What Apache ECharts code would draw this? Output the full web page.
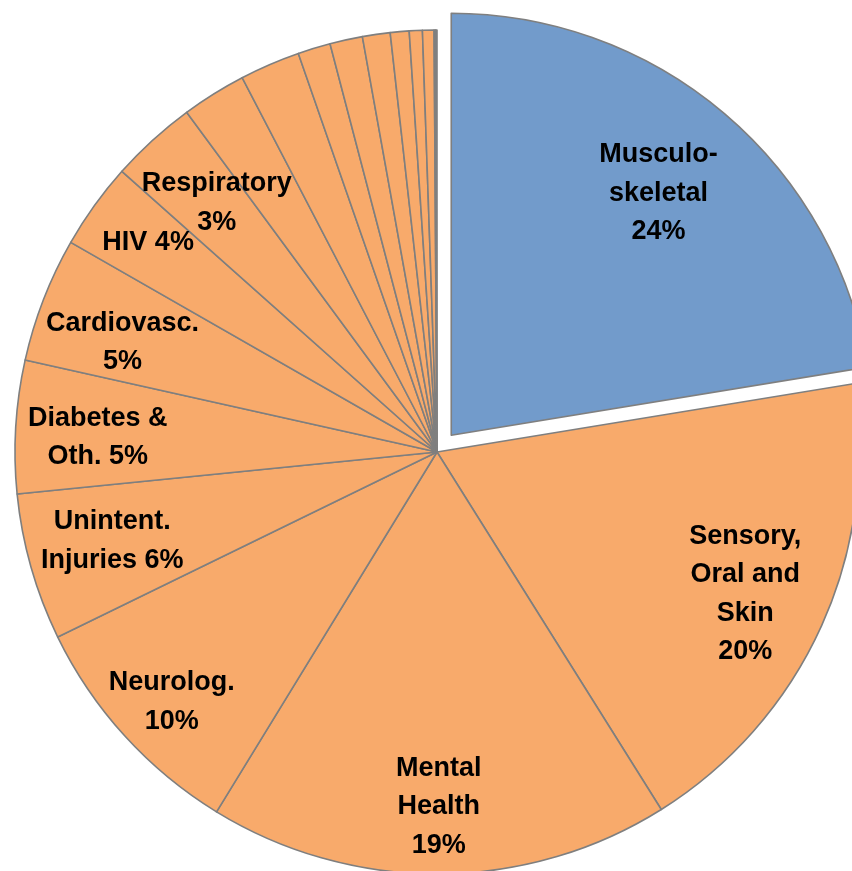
<!DOCTYPE html>
<html>
<head>
<meta charset="utf-8">
<script src="https://cdn.jsdelivr.net/npm/echarts@6/dist/echarts.min.js"></script>
<style>
html,body{margin:0;padding:0;background:#fff;}
#chart{width:852px;height:871px;}
</style>
</head>
<body>
<div id="chart"></div>
<script>
// Slice categories (clockwise from 12 o'clock)
var categories = ["Musculoskeletal", "Sensory, Oral and Skin", "Mental Health", "Neurolog.",
  "Unintent. Injuries", "Diabetes & Oth.", "Cardiovasc.", "HIV", "Respiratory",
  "Other 1", "Other 2", "Other 3", "Other 4", "Other 5", "Other 6", "Other 7", "Other 8", "Other 9", "Other 10"];
// Slice sizes (share of the circle)
var values = [22.42, 18.67, 17.67, 9.03, 5.64, 5.08, 4.78, 3.31, 3.31,
  2.47, 2.31, 1.25, 1.25, 1.06, 0.72, 0.50, 0.44, 0.06, 0.05];
// Label texts as printed on the chart ("" = no label)
var labelTexts = ["Musculo-\nskeletal\n24%", "Sensory,\nOral and\nSkin\n20%", "Mental\nHealth\n19%",
  "Neurolog.\n10%", "Unintent.\nInjuries 6%", "Diabetes &\nOth. 5%", "Cardiovasc.\n5%", "HIV 4%", "Respiratory\n3%",
  "", "", "", "", "", "", "", "", "", ""];
// Highlighted (exploded) slice
var highlighted = ["Musculoskeletal"];

var ORANGE = '#F8AA6B';
var BLUE = '#729BCB';

var chart = echarts.init(document.getElementById('chart'), null, {renderer: 'canvas'});
var R = 422;
var C = [437, 452];
// small manual label nudges (px), like hand-moved labels in the original
var nudge = [[-16, 21], [-6, 0], [0, 10], [-10, 18], [7, -5], [5, 6], [7, 15], [-9, -8], [12, 6]];

var mainData = categories.map(function (c, i) {
  var hi = highlighted.indexOf(c) >= 0;
  return {
    name: c, value: values[i], selected: hi,
    itemStyle: {color: hi ? BLUE : ORANGE}
  };
});
var labelData = categories.map(function (c, i) {
  var hi = highlighted.indexOf(c) >= 0;
  return {
    name: c, value: values[i], selected: hi,
    label: {show: labelTexts[i] !== '', formatter: labelTexts[i]}
  };
});

chart.setOption({
  backgroundColor: '#ffffff',
  animation: false,
  series: [{
    type: 'pie',
    center: C,
    radius: [0, R],
    startAngle: 90,
    clockwise: true,
    selectedMode: 'multiple',
    selectedOffset: 22,
    avoidLabelOverlap: false,
    silent: true,
    label: {show: false},
    labelLine: {show: false},
    itemStyle: {borderColor: '#7F7F7F', borderWidth: 1.6},
    emphasis: {disabled: true},
    data: mainData
  }, {
    type: 'pie',
    center: C,
    radius: [R * 0.62, R],
    startAngle: 90,
    clockwise: true,
    selectedMode: 'multiple',
    selectedOffset: 22,
    avoidLabelOverlap: false,
    minShowLabelAngle: 0,
    silent: true,
    z: 5,
    itemStyle: {color: 'rgba(0,0,0,0)', borderWidth: 0},
    emphasis: {disabled: true},
    labelLine: {show: false},
    labelLayout: function (p) {
      var n = nudge[p.dataIndex] || [0, 0];
      return {hideOverlap: false, dx: n[0], dy: n[1]};
    },
    label: {
      show: true,
      position: 'inside',
      color: '#000',
      fontFamily: 'Liberation Sans, Arial, sans-serif',
      fontWeight: 'bold',
      fontSize: 27,
      lineHeight: 38.5,
      align: 'center'
    },
    data: labelData
  }]
});
</script>
</body>
</html>
